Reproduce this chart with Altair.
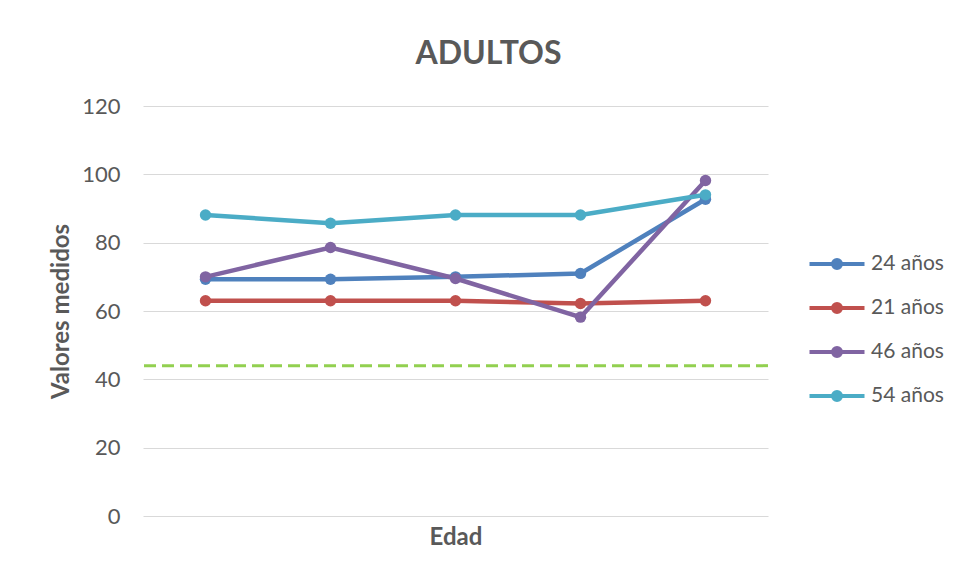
import altair as alt
import pandas as pd

# ---- data ----
categories = ["1", "2", "3", "4", "5"]
series_names = ["24 años", "21 años", "46 años", "54 años"]
v24 = [69.3, 69.3, 70.0, 71.0, 92.7]
v21 = [63.0, 63.0, 63.0, 62.2, 63.0]
v46 = [70.0, 78.6, 69.5, 58.2, 98.2]
v54 = [88.1, 85.7, 88.1, 88.1, 94.0]
threshold = 44
colors = ["#4F81BD", "#C0504D", "#8064A2", "#4BACC6"]

rows = []
for name, vals in zip(series_names, [v24, v21, v46, v54]):
    for c, v in zip(categories, vals):
        rows.append({"Edad": c, "serie": name, "valor": v})
df = pd.DataFrame(rows)

FONT = "Lato"
GRAY = "#595959"

sym_path = ("M-2.75,0L2.75,0 "
            "M0.4,0A0.4,0.4 0 1,0 -0.4,0A0.4,0.4 0 1,0 0.4,0 "
            "M0.15,0A0.15,0.15 0 1,0 -0.15,0A0.15,0.15 0 1,0 0.15,0")

legend = alt.Legend(
    title=None, orient="none", legendX=682, legendY=146,
    symbolType=sym_path, symbolSize=400, symbolStrokeWidth=4,
    symbolOpacity=1, labelOffset=22, labelFontSize=21, labelColor=GRAY,
    labelFont=FONT, rowPadding=20, padding=0,
)

x = alt.X("Edad:N", sort=categories, title="Edad",
          scale=alt.Scale(type="point", padding=0.5),
          axis=alt.Axis(labels=False, ticks=False, domain=False, grid=False,
                        titleFontSize=24, titleFont=FONT, titleFontWeight="bold",
                        titleColor=GRAY, titlePadding=9))
y = alt.Y("valor:Q", title="Valores medidos",
          scale=alt.Scale(domain=[0, 120], nice=False),
          axis=alt.Axis(values=[0, 20, 40, 60, 80, 100, 120], ticks=False, domain=False,
                        grid=True, gridColor="#D9D9D9", gridWidth=1,
                        labelFontSize=22, labelFont=FONT, labelColor=GRAY, labelPadding=23,
                        titleFontSize=24, titleFont=FONT, titleFontWeight="bold",
                        titleColor=GRAY, titleX=-82, titleY=205,
                        titleAlign="center", titleBaseline="middle"))
color = alt.Color("serie:N", sort=series_names,
                  scale=alt.Scale(domain=series_names, range=colors), legend=legend)

base = alt.Chart(df)
lines = base.mark_line(strokeWidth=4.5).encode(x=x, y=y, color=color)
points = base.mark_circle(size=130, opacity=1).encode(x=x, y=y, color=color)

thr = alt.Chart(pd.DataFrame({"umbral": [threshold]})).mark_rule(
    color="#92D050", strokeWidth=3, strokeDash=[12, 6]
).encode(y=alt.Y("umbral:Q"))

chart = alt.layer(thr, lines, points).properties(
    width=625, height=410,
    background="white",
    autosize=alt.AutoSizeParams(type="none"),
    padding={"left": 135, "top": 98, "right": 180, "bottom": 50},
    title=alt.TitleParams("ADULTOS", fontSize=32, font=FONT, fontWeight="bold",
                          color=GRAY, anchor="middle", dx=33, dy=3, offset=2,
                          baseline="alphabetic"),
).configure_view(strokeWidth=0)

chart.save("out.html", embed_options={"renderer": "svg", "actions": False})
